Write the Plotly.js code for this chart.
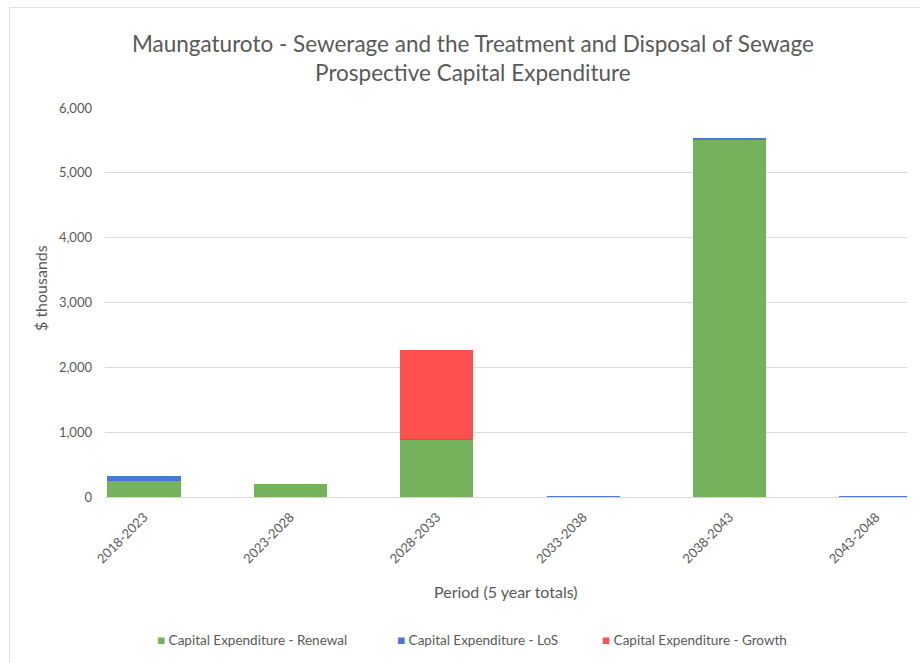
<!DOCTYPE html>
<html>
<head>
<meta charset="utf-8">
<script src="https://cdn.plot.ly/plotly-3.0.1.min.js"></script>
<style>
  html, body { margin: 0; padding: 0; background: #ffffff; }
  #chart { width: 920px; height: 663px; }
</style>
</head>
<body>
<div id="chart"></div>
<script>
// Five-year periods on the category axis
const periods = ['2018-2023', '2023-2028', '2028-2033', '2033-2038', '2038-2043', '2043-2048'];

// Capital expenditure per period, $ thousands
const renewal = [245, 195, 880, 0, 5510, 0];
const levelOfService = [80, 0, 20, 15, 20, 15];
const growth = [0, 0, 1360, 0, 0, 0];

// Series names and colours
const seriesNames = ['Capital Expenditure - Renewal', 'Capital Expenditure - LoS', 'Capital Expenditure - Growth'];
const seriesColors = ['#74b35c', '#4a78d6', '#ff5050'];

// Value axis ticks
const yTickVals = [0, 1000, 2000, 3000, 4000, 5000, 6000];
const yTickText = ['0', '1,000', '2,000', '3,000', '4,000', '5,000', '6,000'];

const FONT = 'Lato, "Open Sans", sans-serif';
const GREY = '#595959';

// plot area in pixels: x 105..907, y 108..497
const PL = 105, PR = 907, PT = 108, PB = 497;
const px = v => (v - PL) / (PR - PL);
const py = v => (PB - v) / (PB - PT);

const values = [renewal, levelOfService, growth];
const data = values.map((vals, i) => ({
  type: 'bar',
  name: seriesNames[i],
  x: periods,
  y: vals,
  width: 0.5,
  marker: { color: seriesColors[i], line: { width: 0 } },
  hoverinfo: 'x+y+name'
}));

// legend entries: small coloured square followed by the series name
const legendX = [155, 395, 600];
const legendNotes = seriesNames.map((name, i) => ({
  text: '<span style="color:' + seriesColors[i] + '">■</span> ' + name,
  xref: 'paper', yref: 'paper',
  x: px(legendX[i]), y: py(640),
  xanchor: 'left', yanchor: 'middle',
  showarrow: false,
  font: { family: FONT, size: 13.5, color: GREY }
}));

const layout = {
  width: 920,
  height: 663,
  margin: { l: PL, r: 920 - PR, t: PT, b: 663 - PB, pad: 0 },
  paper_bgcolor: '#ffffff',
  plot_bgcolor: '#ffffff',
  barmode: 'stack',
  font: { family: FONT, color: GREY, size: 13 },
  title: {
    text: 'Maungaturoto - Sewerage and the Treatment and Disposal of Sewage<br>Prospective Capital Expenditure',
    font: { family: FONT, size: 22.5, color: GREY },
    xref: 'container', yref: 'container',
    x: 0.514, xanchor: 'center',
    y: 1 - 52 / 663, yanchor: 'middle'
  },
  xaxis: {
    type: 'category',
    range: [-0.266, 5.212],
    tickangle: -45,
    tickfont: { family: FONT, size: 13, color: GREY },
    ticklabelstandoff: 9,
    showgrid: false,
    showline: false,
    ticks: '',
    fixedrange: true
  },
  yaxis: {
    range: [0, 6000],
    tickvals: yTickVals,
    ticktext: yTickText,
    tickfont: { family: FONT, size: 13, color: GREY },
    ticks: '',
    ticklabelstandoff: 12,
    showgrid: true,
    gridcolor: '#d9d9d9',
    gridwidth: 1,
    zeroline: true,
    zerolinecolor: '#d9d9d9',
    zerolinewidth: 1,
    showline: false,
    fixedrange: true
  },
  showlegend: false,
  annotations: [
    {
      text: 'Period (5 year totals)',
      xref: 'paper', yref: 'paper',
      x: 0.5, y: py(591),
      xanchor: 'center', yanchor: 'middle',
      showarrow: false,
      font: { family: FONT, size: 16, color: GREY }
    },
    {
      text: '$ thousands',
      xref: 'paper', yref: 'paper',
      x: px(40), y: py(288),
      xanchor: 'center', yanchor: 'middle',
      textangle: -90,
      showarrow: false,
      font: { family: FONT, size: 16, color: GREY }
    }
  ].concat(legendNotes),
  shapes: [
    {
      type: 'rect',
      xref: 'paper', yref: 'paper',
      x0: px(9.5), x1: 1.2,
      y0: -0.6, y1: py(7.5),
      line: { color: '#e3e3e3', width: 1 },
      fillcolor: 'rgba(0,0,0,0)',
      layer: 'below'
    }
  ]
};

Plotly.newPlot('chart', data, layout, { displayModeBar: false, staticPlot: true });
</script>
</body>
</html>
